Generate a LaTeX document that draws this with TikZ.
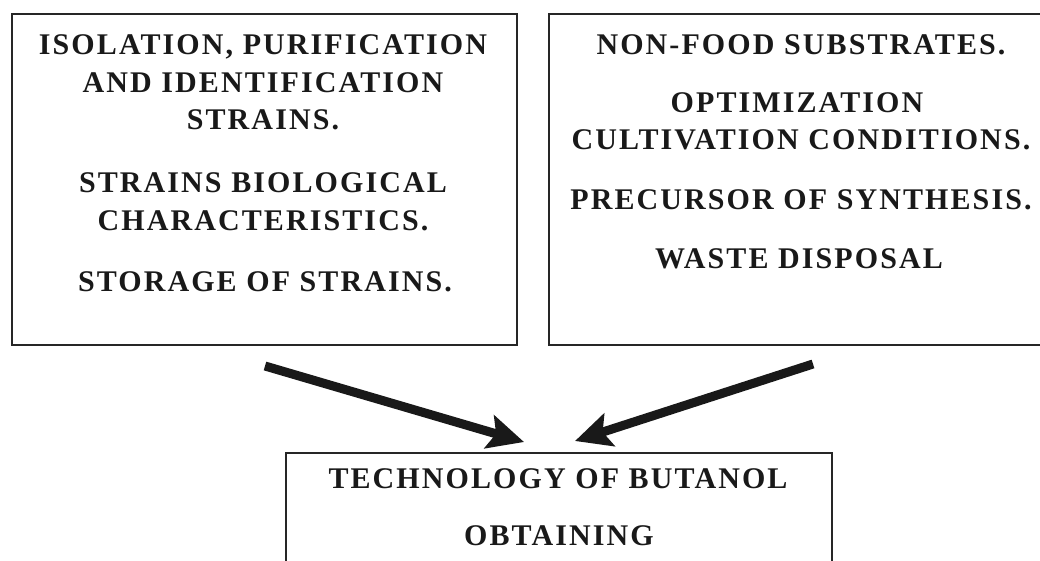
\documentclass[tikz,border=0pt]{standalone}
\usepackage{fontspec}
\setmainfont{Liberation Serif}
\newfontfamily\wideserif[LetterSpace=7]{Liberation Serif}
\usetikzlibrary{arrows.meta}
\tikzset{
  box/.style={draw=black!85, line width=2pt, fill=none, inner sep=0pt},
  txt/.style={font=\wideserif\fontsize{30}{35}\selectfont\bfseries, text=black!90, anchor=base, inner sep=0pt},
  bigarrow/.style={line width=9pt, draw=black!90, -{Stealth[length=36pt,width=34pt,inset=7pt]}}
}
\begin{document}
\begin{tikzpicture}[x=1pt,y=1pt]
\clip (0,0) rectangle (1040,-561);
\fill[white] (0,0) rectangle (1040,-561);
% boxes
\node[box, minimum width=505pt, minimum height=331pt] (left) at (264.5,-179.5) {};
\node[box, minimum width=503pt, minimum height=331pt] (right) at (800.5,-179.5) {};
\node[box, minimum width=546pt, minimum height=160pt] (bottom) at (559,-533) {};
% left text
\node[txt] (l1) at (263,-55) {ISOLATION, PURIFICATION};
\node[txt] (l2) at (263,-93) {AND IDENTIFICATION};
\node[txt] (l3) at (263,-130) {STRAINS.};
\node[txt] (l4) at (263,-193) {STRAINS BIOLOGICAL};
\node[txt] (l5) at (263,-230) {CHARACTERISTICS.};
\node[txt] (l6) at (265,-291) {STORAGE OF STRAINS.};
% right text
\node[txt] (r1) at (801,-55) {NON-FOOD SUBSTRATES.};
\node[txt] (r2) at (797,-113) {OPTIMIZATION};
\node[txt] (r3) at (801,-150) {CULTIVATION CONDITIONS.};
\node[txt] (r4) at (801,-210) {PRECURSOR OF SYNTHESIS.};
\node[txt] (r5) at (799,-268) {WASTE DISPOSAL};
% bottom text
\node[txt] (b1) at (558,-488) {TECHNOLOGY OF BUTANOL};
\node[txt] (b2) at (559,-545) {OBTAINING};
% arrows
\coordinate (t1) at (265,-366);
\coordinate (h1) at (524,-442);
\coordinate (t2) at (813,-364);
\coordinate (h2) at (575,-441);
\draw[bigarrow] (t1) -- (h1);
\draw[bigarrow] (t2) -- (h2);
\end{tikzpicture}
\end{document}
